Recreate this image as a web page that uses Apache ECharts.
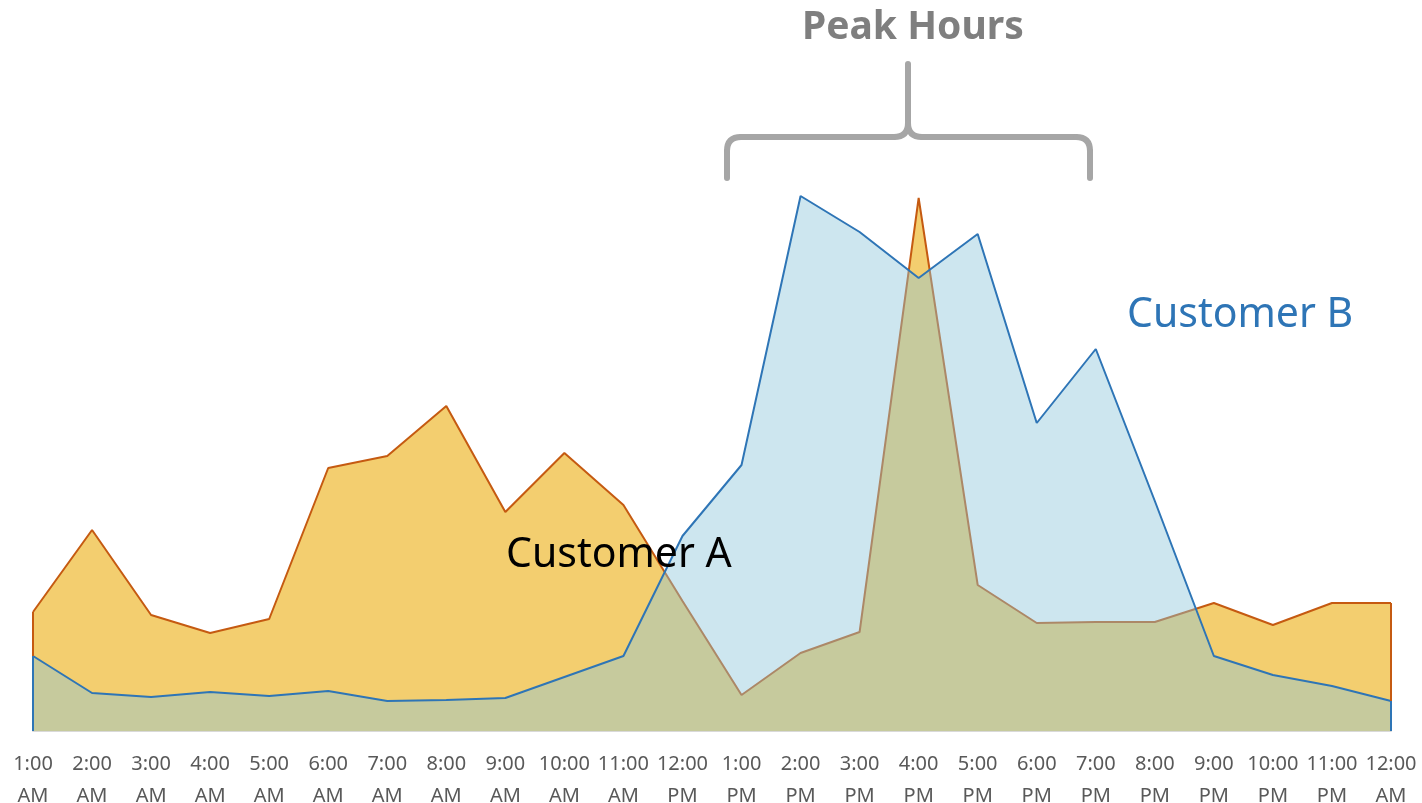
<!DOCTYPE html>
<html>
<head>
<meta charset="utf-8">
<script src="https://cdn.jsdelivr.net/npm/echarts@6/dist/echarts.min.js"></script>
<style>
  html, body { margin: 0; padding: 0; background: #fff; overflow: hidden; }
  #chart { width: 1422px; height: 803px; }
</style>
</head>
<body>
<div id="chart"></div>
<script>
const hours = [
  '1:00\nAM', '2:00\nAM', '3:00\nAM', '4:00\nAM', '5:00\nAM', '6:00\nAM',
  '7:00\nAM', '8:00\nAM', '9:00\nAM', '10:00\nAM', '11:00\nAM', '12:00\nPM',
  '1:00\nPM', '2:00\nPM', '3:00\nPM', '4:00\nPM', '5:00\nPM', '6:00\nPM',
  '7:00\nPM', '8:00\nPM', '9:00\nPM', '10:00\nPM', '11:00\nPM', '12:00\nAM'
]

const customerA = [
  23.8, 40.2, 23.2, 19.6, 22.4, 52.6, 55.0, 65.0, 43.8, 55.6, 45.2, 26.0,
  7.2, 15.6, 19.8, 106.6, 29.2, 21.6, 21.8, 21.8, 25.6, 21.2, 25.6, 25.6
]

const customerB = [
  15.0, 7.6, 6.8, 7.8, 7.0, 8.0, 6.0, 6.2, 6.6, 10.8, 15.0, 39.0,
  53.2, 107.0, 99.8, 90.6, 99.4, 61.6, 76.4, 46.0, 15.0, 11.2, 9.0, 6.0
]

const chart = echarts.init(document.getElementById('chart'))

// vertical edges at both ends, like the spreadsheet area outline
const edges = (vals) => [
  [{ coord: [0, 0] }, { coord: [0, vals[0]] }],
  [{ coord: [vals.length - 1, 0] }, { coord: [vals.length - 1, vals[vals.length - 1]] }]
]

// the curly brace over the peak hours
const braceStyle = { stroke: '#a6a6a6', lineWidth: 6, lineCap: 'round', fill: null }
const seg = (x1, y1, x2, y2) => ({ type: 'line', z: 100, shape: { x1, y1, x2, y2 }, style: braceStyle })
const curve = (x1, y1, cx, cy, x2, y2) => ({
  type: 'bezierCurve',
  z: 100,
  shape: { x1, y1, x2, y2, cpx1: cx, cpy1: cy },
  style: braceStyle
})
const brace = [
  seg(727, 178, 727, 151),
  curve(727, 151, 727, 137, 741, 137),
  seg(741, 137, 894, 137),
  curve(894, 137, 908, 137, 908, 123),
  seg(908, 123, 908, 64),
  curve(908, 123, 908, 137, 922, 137),
  seg(922, 137, 1076, 137),
  curve(1076, 137, 1090, 137, 1090, 151),
  seg(1090, 151, 1090, 178)
]

const option = {
  animation: false,
  grid: { left: 33, right: 31, top: 131, bottom: 72, outerBoundsMode: 'none', containLabel: false },
  xAxis: {
    type: 'category',
    boundaryGap: false,
    data: hours,
    axisLine: { lineStyle: { color: '#d9d9d9', width: 2 } },
    axisTick: { show: false },
    axisLabel: {
      color: '#595959',
      fontFamily: 'Noto Sans',
      fontSize: 20,
      lineHeight: 32,
      margin: 17,
      interval: 0
    },
    splitLine: { show: false }
  },
  yAxis: {
    type: 'value',
    min: 0,
    max: 120,
    show: false
  },
  series: [
    {
      name: 'Customer A',
      type: 'line',
      z: 2,
      data: customerA,
      showSymbol: false,
      lineStyle: { color: '#c55a11', width: 2 },
      areaStyle: { color: '#f3ce6f', opacity: 1 },
      markLine: {
        silent: true,
        symbol: 'none',
        label: { show: false },
        lineStyle: { color: '#c55a11', width: 2, type: 'solid' },
        data: edges(customerA)
      }
    },
    {
      // drawn above A so its translucent fill tints A's outline too
      name: 'Customer B',
      type: 'line',
      z: 3,
      data: customerB,
      showSymbol: false,
      lineStyle: { color: '#2e75b6', width: 2 },
      areaStyle: { color: 'rgba(140,198,218,0.43)', opacity: 1 },
      markLine: {
        silent: true,
        symbol: 'none',
        label: { show: false },
        lineStyle: { color: '#2e75b6', width: 2, type: 'solid' },
        data: edges(customerB)
      }
    }
  ],
  graphic: [
    {
      type: 'text',
      z: 100,
      x: 802,
      y: 8,
      style: {
        text: 'Peak Hours',
        fill: '#7f7f7f',
        font: 'bold 39px "Noto Sans"'
      }
    },
    ...brace,
    {
      type: 'text',
      z: 100,
      x: 506,
      y: 535,
      style: {
        text: 'Customer A',
        fill: '#000',
        font: '41px "Noto Sans"'
      }
    },
    {
      type: 'text',
      z: 100,
      x: 1127,
      y: 295,
      style: {
        text: 'Customer B',
        fill: '#2e75b6',
        font: '41px "Noto Sans"'
      }
    }
  ]
}

chart.setOption(option)
</script>
</body>
</html>
